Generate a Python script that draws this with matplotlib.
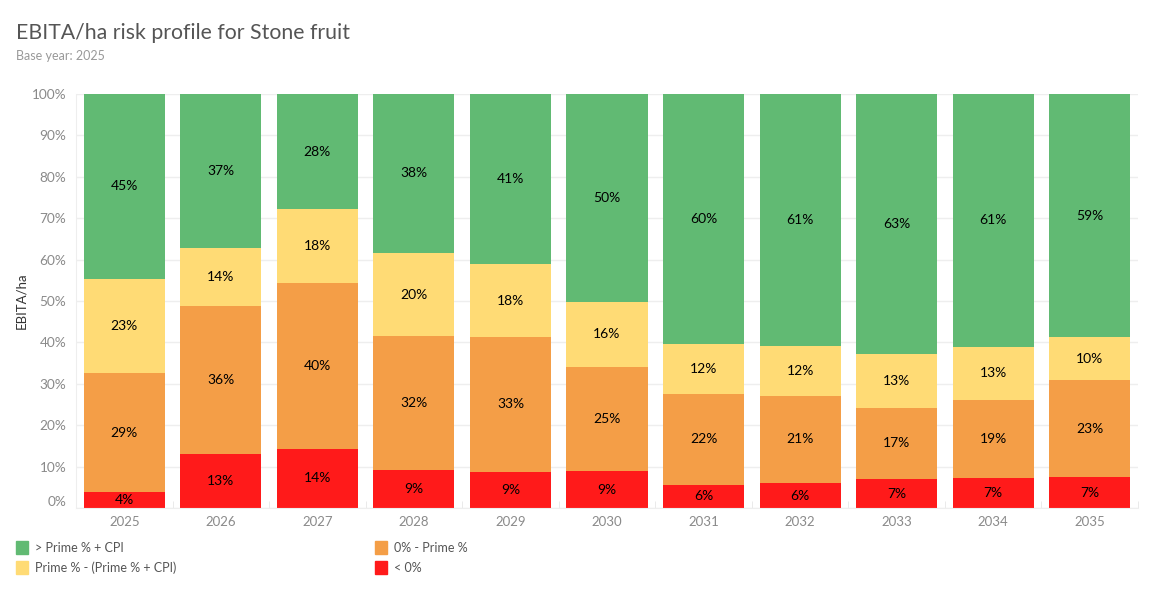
import numpy as np
import matplotlib.pyplot as plt
from matplotlib.patches import Rectangle

plt.rcParams['font.family'] = ['Lato', 'DejaVu Sans']

years = ['2025', '2026', '2027', '2028', '2029', '2030',
         '2031', '2032', '2033', '2034', '2035']
below_zero = [3.9, 13.0, 14.3, 9.2, 8.7, 8.9, 5.6, 6.0, 7.0, 7.2, 7.4]
zero_to_prime = [28.6, 35.8, 40.0, 32.3, 32.6, 25.2, 21.9, 21.1, 17.2, 18.9, 23.4]
prime_to_cpi = [22.9, 14.0, 17.9, 20.1, 17.6, 15.7, 12.1, 12.0, 13.0, 12.8, 10.4]
above_cpi = [44.6, 37.2, 27.8, 38.4, 41.1, 50.2, 60.4, 60.9, 62.8, 61.1, 58.8]

series = [('< 0%', below_zero, '#FF1A1A'),
          ('0% - Prime %', zero_to_prime, '#F49E47'),
          ('Prime % - (Prime % + CPI)', prime_to_cpi, '#FFDB75'),
          ('> Prime % + CPI', above_cpi, '#61BA73')]

fig = plt.figure(figsize=(11.5, 6), dpi=100)
ax = fig.add_axes([76 / 1150, 1 - 508 / 600, (1138 - 76) / 1150, (508 - 94) / 600])

x = np.arange(len(years))
bottom = np.zeros(len(years))
for name, vals, col in series:
    vals = np.array(vals)
    ax.bar(x, vals, width=0.84, bottom=bottom, color=col, zorder=2)
    for xi, b, v in zip(x, bottom, vals):
        ax.text(xi, b + v / 2, f'{v:.0f}%', ha='center', va='center',
                fontsize=10, color='black', zorder=3)
    bottom += vals

ax.set_xlim(-0.5, len(years) - 0.5)
ax.set_ylim(0, 100)
ax.set_yticks(np.arange(0, 101, 10))
ax.set_yticklabels([f'{t}%' for t in range(0, 101, 10)])
ax.set_xticks(x)
ax.set_xticklabels(years)
ax.set_xticks(np.arange(-0.5, len(years), 1), minor=True)
ax.tick_params(axis='x', which='major', length=0, colors='#8a8a8a', labelsize=9.5, pad=6)
ax.tick_params(axis='x', which='minor', length=5, color='#e6e6e6', direction='in')
ax.tick_params(axis='y', length=0, colors='#8a8a8a', labelsize=9.8, pad=7)
# push the 0% label up a bit, like the original
for lbl in ax.get_yticklabels():
    if lbl.get_text() == '0%':
        lbl.set_va('bottom')
ax.grid(axis='y', color='#eeeeee', linewidth=1, zorder=0)
for s in ['top', 'right']:
    ax.spines[s].set_visible(False)
ax.spines['left'].set_color('#eeeeee')
ax.spines['bottom'].set_color('#eeeeee')
ax.set_ylabel('EBITA/ha', fontsize=9.5, color='#333333', labelpad=3)

fig.text(16 / 1150, 1 - 33 / 600, 'EBITA/ha risk profile for Stone fruit',
         fontsize=15.3, color='#555555', va='center')
fig.text(16 / 1150, 1 - 56 / 600, 'Base year: 2025', fontsize=9,
         color='#999999', va='center')

# legend
legend_items = [('> Prime % + CPI', '#61BA73', 16, 548),
                ('0% - Prime %', '#F49E47', 375, 548),
                ('Prime % - (Prime % + CPI)', '#FFDB75', 16, 568),
                ('< 0%', '#FF1A1A', 375, 568)]
for name, col, px, py in legend_items:
    fig.patches.append(Rectangle((px / 1150, 1 - (py + 6) / 600), 12 / 1150, 13 / 600,
                                 color=col, transform=fig.transFigure))
    fig.text((px + 19) / 1150, 1 - py / 600, name, fontsize=9, color='#555555',
             va='center')

fig.savefig('out.png', dpi=100)
